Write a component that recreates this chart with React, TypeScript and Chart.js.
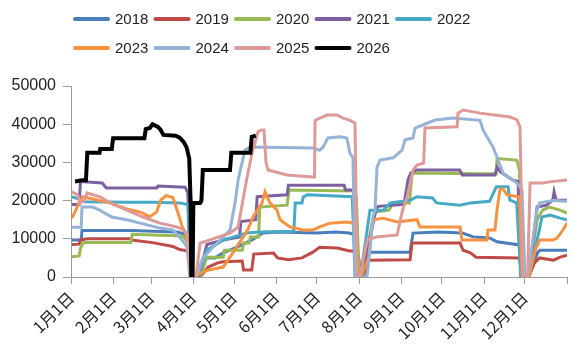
import React, { useEffect, useRef } from "react";
import { Chart, registerables } from "chart.js";

Chart.register(...registerables);

const monthStarts = [0, 31, 59, 90, 120, 151, 181, 212, 243, 273, 304, 334, 365];
const monthLabels = ["1月1日", "2月1日", "3月1日", "4月1日", "5月1日", "6月1日", "7月1日", "8月1日", "9月1日", "10月1日", "11月1日", "12月1日", ""];
const seriesNames = ["2018", "2019", "2020", "2021", "2022", "2023", "2024", "2025", "2026"];
const seriesColors = ["#4A7EBB", "#BE4B48", "#98B954", "#7D60A0", "#46AAC5", "#F69240", "#95B3D7", "#DE9A98", "#000000"];
const yTicks = [0, 10000, 20000, 30000, 40000, 50000];

// [day of year, value]
const s2018 = [
  [0.7, 9700], [7.5, 9700], [8.1, 12200], [45, 12200], [60, 12000], [78, 11800], [84, 11200], [86.5, 10500], [88.5, 0],
  [93, 0], [98.6, 5000], [106, 5000], [111.9, 6300], [122.2, 7800], [133.2, 9700], [141.3, 11500], [152, 11800], [180, 11500], [195, 11800], [205, 11500], [209, 11000], [210.5, 0],
  [215, 0], [219.5, 6500], [249.5, 6500], [251.7, 11500], [270, 11800], [288, 11500], [296, 10500], [308, 10200], [313.5, 9200], [330, 8400], [333.5, 0],
  [337, 0], [343.5, 6500], [345.1, 7000], [365, 7000],
];
const s2019 = [
  [0.7, 8500], [6, 8600], [7, 9700], [12, 10000], [44, 10000], [46, 9600], [60, 9000], [75, 8000], [80, 7200], [86, 6800], [88.5, 0],
  [95, 0], [101, 2600], [108, 3700], [112, 4000], [126, 4200], [127, 1800], [133, 1800], [134.5, 6000], [149, 6300], [152, 5000], [160, 4500], [170, 5000], [178, 6500], [183, 7800], [196, 7600], [205, 6800], [211, 6800], [213.5, 0],
  [215, 0], [218.5, 4400], [249.5, 4500], [251, 8900], [286.3, 8900], [288.5, 7000], [294, 6300], [298, 5200], [330, 5000], [332.5, 0],
  [336.5, 0], [341, 3700], [345, 5000], [355, 4400], [360, 5200], [365, 5700],
];
const s2020 = [
  [0.7, 5300], [6, 5500], [7, 7500], [9, 9000], [44, 9000], [45, 11200], [60, 11000], [78, 10800], [83, 10500], [86, 9000], [88, 0],
  [95, 0], [100, 5200], [112, 5200], [113, 7000], [126, 7000], [127, 8900], [131, 8900], [132, 10500], [138, 10500], [139, 18300], [159, 18800], [160.5, 22800], [208, 22500], [210, 21000], [212, 0],
  [214.5, 0], [222, 15000], [224, 17000], [234, 17500], [237, 19400], [249, 19400], [251, 27200], [300, 27000], [313, 27000], [313.5, 31000], [328, 30600], [330, 28000], [331.5, 0],
  [336.5, 0], [343, 15000], [347, 17500], [352, 18300], [360, 17500], [365, 16700],
];
const s2021 = [
  [0.7, 19000], [6, 19000], [7, 25000], [23, 24600], [26, 23300], [63, 23300], [64, 23800], [84, 23500], [86, 22000], [88, 0],
  [94, 0], [100, 8500], [112, 9700], [124, 10500], [125, 14500], [136, 15000], [137, 21000], [159, 21500], [160, 24000], [201, 24000], [202, 22800], [208, 22800], [210.5, 0],
  [214, 0], [224, 17000], [226, 18500], [245, 19000], [248, 25400], [250, 27200], [254, 28000], [286, 28000], [288, 26700], [312, 26700], [313.5, 28800], [316, 27500], [325, 25400], [329, 25000], [331, 0],
  [337, 0], [343, 18300], [350, 18800], [354.5, 20100], [355.5, 22300], [357, 20100], [365, 20100],
];
const s2022 = [
  [0.7, 21000], [5, 20500], [10, 19700], [40, 19600], [60, 19600], [80, 19400], [86, 19000], [88, 0],
  [93, 0], [100, 7000], [112, 9700], [120, 10500], [129, 11500], [139, 11800], [164, 12000], [165, 19400], [170, 19400], [171, 21000], [174, 21500], [207, 21000], [209, 0],
  [213, 0], [220, 17500], [230, 17500], [235, 19400], [249.5, 20100], [254.6, 21000], [266, 20700], [269, 19400], [286, 18800], [294, 19400], [308, 19800], [313, 23600], [321.6, 23600], [323, 20100], [328, 19400], [331, 0],
  [337, 0], [345, 13000], [346.6, 15700], [352.5, 16200], [360, 15400], [365, 15000],
];
const s2023 = [
  [0.7, 15400], [6, 19400], [8.8, 21000], [28.7, 19400], [41, 17800], [51, 17000], [58, 15800], [63, 17000], [66, 20100], [70, 21300], [75, 20800], [79, 16500], [82, 13000], [84.5, 11500], [87, 8000], [89, 0],
  [91, 0], [95, 1000], [101, 1800], [112, 2600], [117, 5200], [124, 9000], [130, 12300], [134, 15700], [140.6, 19400], [142.8, 22300], [146.4, 19400], [151.6, 17500], [153.8, 15000], [161, 13100], [170.7, 12300], [178, 12300], [183, 13100], [190.6, 14100], [203, 14400], [208, 14100], [210, 0],
  [213, 0], [219, 5000], [222, 15000], [229.6, 15400], [240, 14400], [254.6, 15000], [256.8, 13100], [286.3, 13100], [287.7, 9700], [306, 9700], [306.9, 12300], [312, 12300], [313.5, 17500], [315.7, 23000], [318, 23000], [321, 21500], [330, 21000], [332, 0],
  [337, 0], [341.5, 7000], [345, 9700], [354.7, 9700], [357.7, 10200], [362, 12300], [365, 14100],
];
const s2024 = [
  [0.7, 13000], [7.5, 13000], [8.1, 18300], [16, 18300], [21, 17500], [30, 15700], [41, 15000], [51, 14100], [65.5, 12800], [75, 12300], [81.7, 9700], [85.4, 7800], [87.5, 0],
  [92, 0], [97, 5000], [105, 8000], [112, 10500], [117, 12300], [120.7, 19400], [123, 25400], [125.8, 29800], [128, 33200], [131.7, 34000], [178, 33800], [183, 33200], [185.5, 34000], [189, 36400], [198, 36700], [203, 36400], [205.3, 32400], [207.5, 31200], [209, 0],
  [217.8, 0], [220, 7000], [222.2, 15700], [223.7, 17500], [225.2, 28800], [227.4, 30600], [237, 31200], [243.6, 33200], [245.8, 35900], [251.7, 36400], [253.2, 39000], [267.9, 41100], [281, 41600], [301, 41000], [303.2, 38500], [310.6, 34000], [313.5, 31400], [317.9, 27200], [323, 25900], [328.2, 24600], [331.9, 22800], [334, 0],
  [336, 0], [340, 10000], [342.9, 17500], [345, 19400], [354.7, 20000], [365, 19800],
];
const s2025 = [
  [0.7, 22300], [5, 21500], [6.6, 19400], [10, 20000], [11.8, 22000], [21.3, 21000], [28.7, 19400], [41.2, 17500], [53, 15700], [65.5, 14100], [78, 13100], [82.4, 12300], [86, 11000], [88, 0],
  [92, 0], [95, 8900], [117, 11500], [122.9, 13000], [129.5, 26000], [133.2, 32400], [137.6, 38000], [140, 38500], [142, 38500], [143.5, 30000], [145, 28000], [159, 26700], [178, 26200], [179.2, 26200], [179.6, 41000], [183.2, 41600], [188.4, 42400], [195.8, 42400], [200.2, 41600], [205.3, 41000], [209, 40300], [210.5, 0],
  [212.5, 0], [218, 9700], [225, 10500], [240, 11000], [244, 17500], [247.3, 21000], [251.7, 28000], [254.6, 29300], [259.5, 29800], [260.5, 39000], [284.1, 39300], [284.8, 42900], [288.5, 43700], [301, 42900], [323, 41900], [328.2, 41100], [330.4, 39300], [332.6, 0],
  [336, 0], [337.8, 24600], [347, 24600], [352.5, 24900], [365, 25400],
];
const s2026 = [
  [3, 25000], [8, 25300], [11, 25300], [12, 32500], [21, 32500], [21.5, 33500], [30, 33500], [31, 36300], [54, 36300], [55, 38700], [58, 39000], [60, 40000], [64, 39300], [66, 38500], [68, 37200], [77, 37000], [80, 36500], [83, 35300], [85, 34000], [87, 31000], [88, 20000], [88.5, 0],
  [89.5, 0], [90, 19400], [95, 19400], [96, 20000], [97, 28000], [117, 28000], [118, 32500], [132, 32500], [133, 36700], [136, 37000],
];

const seriesData = [s2018, s2019, s2020, s2021, s2022, s2023, s2024, s2025, s2026];

const legendPlugin = {
  id: "customLegend",
  afterDraw(chart: any) {
    const ctx = chart.ctx;
    ctx.save();
    chart.data.datasets.forEach((ds: any, i: number) => {
      const row = i < 5 ? 0 : 1;
      const col = i < 5 ? i : i - 5;
      const x = 73 + col * 80.5;
      const y = row === 0 ? 19 : 48;
      ctx.strokeStyle = ds.borderColor;
      ctx.lineWidth = 4;
      ctx.lineCap = "round";
      ctx.beginPath();
      ctx.moveTo(x + 2, y);
      ctx.lineTo(x + 35, y);
      ctx.stroke();
      ctx.fillStyle = "#222222";
      ctx.font = '15px "Liberation Sans", Arial, sans-serif';
      ctx.textBaseline = "middle";
      ctx.textAlign = "left";
      ctx.fillText(ds.label, x + 42, y + 1);
    });
    ctx.restore();
  },
};

export default function App() {
  const ref = useRef<HTMLCanvasElement | null>(null);
  useEffect(() => {
    if (!ref.current) return;
    const chart = new Chart(ref.current, {
      type: "line",
      data: {
        datasets: seriesNames.map((name, i) => ({
          label: name,
          data: seriesData[i].map((p) => ({ x: p[0], y: p[1] })),
          borderColor: seriesColors[i],
          backgroundColor: seriesColors[i],
          borderWidth: i === 8 ? 4 : 3,
          pointRadius: 0,
          tension: 0,
          fill: false,
          order: 8 - i,
        })),
      },
      options: {
        animation: false,
        responsive: false,
        events: [],
        layout: { padding: { top: 86, right: 4, left: 0, bottom: 0 } },
        plugins: { legend: { display: false }, tooltip: { enabled: false } },
        scales: {
          x: {
            type: "linear",
            min: 0,
            max: 365,
            afterBuildTicks: (scale: any) => {
              scale.ticks = monthStarts.map((v) => ({ value: v }));
            },
            afterFit: (scale: any) => {
              scale.height = 76;
              scale.paddingRight = 0;
              scale.paddingLeft = 0;
            },
            grid: { display: true, drawOnChartArea: false, drawTicks: true, tickLength: 7, color: "#9a9a9a" },
            border: { display: true, color: "#9a9a9a" },
            ticks: {
              autoSkip: false,
              maxRotation: 45,
              minRotation: 45,
              padding: 4,
              color: "#222222",
              font: { family: '"Noto Sans CJK SC", sans-serif', size: 16 },
              callback: (_v: any, i: number) => monthLabels[i],
            },
          },
          y: {
            min: 0,
            max: 50000,
            afterBuildTicks: (scale: any) => {
              scale.ticks = yTicks.map((v) => ({ value: v }));
            },
            afterFit: (scale: any) => {
              scale.width = 71;
              scale.paddingTop = 0;
              scale.paddingBottom = 0;
            },
            grid: { display: true, drawOnChartArea: false, drawTicks: true, tickLength: 8, color: "#9a9a9a" },
            border: { display: true, color: "#9a9a9a" },
            ticks: {
              padding: 7,
              color: "#222222",
              font: { family: '"Liberation Sans", Arial, sans-serif', size: 16 },
              callback: (v: any) => String(v),
            },
          },
        },
      },
      plugins: [legendPlugin],
    });
    return () => chart.destroy();
  }, []);
  return (
    <div style={{ position: "fixed", left: 0, top: 0, width: 571, height: 353, background: "#fff" }}>
      <canvas ref={ref} width={571} height={353} style={{ display: "block" }} />
    </div>
  );
}
